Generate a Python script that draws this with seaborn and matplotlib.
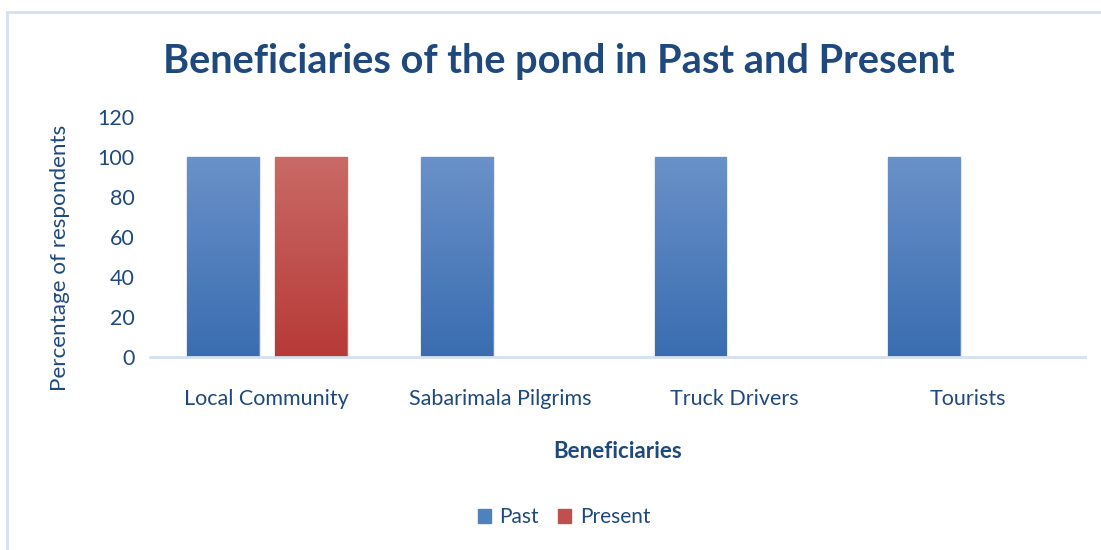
import numpy as np
import pandas as pd
import matplotlib
matplotlib.use("Agg")
import matplotlib.pyplot as plt
from matplotlib.colors import LinearSegmentedColormap
from matplotlib.patches import Rectangle
import seaborn as sns

categories = ["Local Community", "Sabarimala Pilgrims", "Truck Drivers", "Tourists"]
past = [100, 100, 100, 100]
present = [100, 0, 0, 0]
series = ["Past", "Present"]
yticks = [0, 20, 40, 60, 80, 100, 120]

df = pd.DataFrame({
    "Beneficiaries": categories * 2,
    "value": past + present,
    "period": ["Past"] * len(categories) + ["Present"] * len(categories),
})

sns.set_theme(style="white")
plt.rcParams["font.family"] = ["Lato", "DejaVu Sans"]

text_color = "#1F497D"
palette = {"Past": "#4F81BD", "Present": "#C0504D"}
gradients = {
    "Past": ("#6A91C9", "#3A6DB0"),
    "Present": ("#C96A66", "#B73A37"),
}

fig = plt.figure(figsize=(11.01, 5.5), dpi=100)
ax = fig.add_axes([150 / 1101, 1 - 357 / 550, 935 / 1101, 240 / 550])

sns.barplot(data=df, x="Beneficiaries", y="value", hue="period",
            hue_order=series, palette=palette, width=0.75, gap=0.18,
            ax=ax, legend=False, saturation=1)

# vertical gradient fill on each bar, clipped to the bar shape
for container, name in zip(ax.containers, series):
    cmap = LinearSegmentedColormap.from_list(name, [gradients[name][1], gradients[name][0]])
    for patch in container.patches:
        h = patch.get_height()
        if h <= 0:
            patch.set_visible(False)
            continue
        x0 = patch.get_x()
        w = patch.get_width()
        grad = np.linspace(0, 1, 256).reshape(-1, 1)
        im = ax.imshow(grad, extent=[x0, x0 + w, 0, h], origin="lower",
                       cmap=cmap, aspect="auto", zorder=patch.get_zorder() + 0.1)
        im.set_clip_path(patch)
        patch.set_edgecolor(gradients[name][0])
        patch.set_linewidth(1.0)

ax.set_xlim(-0.5, len(categories) - 0.5)
ax.set_ylim(0, 120)
ax.set_yticks(yticks)
ax.set_yticklabels([str(t) for t in yticks], fontsize=15.5, color=text_color)
ax.set_xticks(range(len(categories)))
ax.set_xticklabels(categories, fontsize=15.5, color=text_color)
ax.tick_params(axis="both", length=0)
ax.tick_params(axis="x", pad=23)
ax.tick_params(axis="y", pad=11)

for s in ["top", "right", "left"]:
    ax.spines[s].set_visible(False)
ax.spines["bottom"].set_color("#D5E1F0")
ax.spines["bottom"].set_linewidth(2)

ax.set_xlabel("Beneficiaries", fontsize=16, fontweight="bold", color=text_color, labelpad=23)
ax.set_ylabel("Percentage of respondents", fontsize=16.2, color=text_color)
ax.yaxis.set_label_coords((70 - 150) / 935, (357 - 258) / 240)

fig.text(559 / 1101, 1 - 61 / 550, "Beneficiaries of the pond in Past and Present",
         ha="center", va="center", fontsize=28.6, fontweight="bold", color=text_color)

# legend
handles = [Rectangle((0, 0), 1, 1, color=palette[s]) for s in series]
fig.legend(handles, series, loc="center", bbox_to_anchor=(564 / 1101, 1 - 517 / 550),
           ncol=2, frameon=False, fontsize=15, labelcolor=text_color,
           handlelength=0.65, handleheight=0.65, handletextpad=0.4, columnspacing=0.9)

# chart area border
fig.add_artist(Rectangle((7 / 1101, -0.1), 1.2, 1 - 12 / 550 + 0.1,
                         transform=fig.transFigure, fill=False,
                         edgecolor="#D3E1F1", linewidth=2))

fig.savefig("out.png", dpi=100)
